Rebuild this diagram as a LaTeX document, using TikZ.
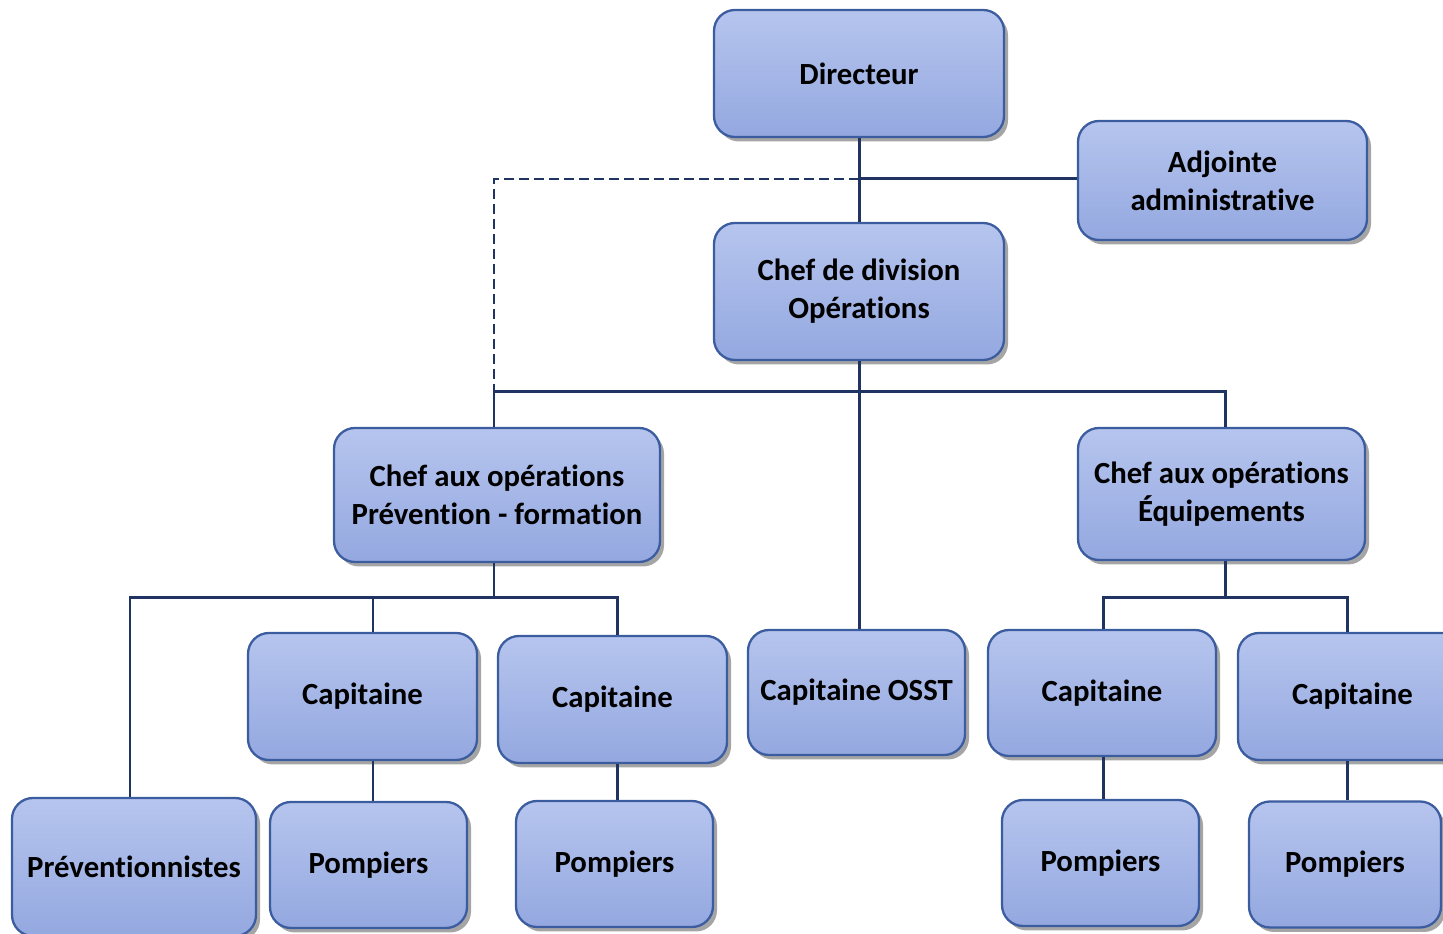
\documentclass[tikz,border=0pt]{standalone}
\usepackage{fontspec}
\setmainfont{Carlito}[Ligatures=NoCommon]
\usepackage{xcolor}
\usetikzlibrary{arrows,shapes,calc,positioning,shadows}
\definecolor{boxtop}{RGB}{182,197,238}
\definecolor{boxbot}{RGB}{148,168,224}
\definecolor{boxline}{RGB}{60,92,160}
\definecolor{linkcol}{RGB}{31,52,98}

\begin{document}
\begin{tikzpicture}[scale = 1]
		\tikzstyle{every node}=[font=\fontsize{17.5}{21.6}\selectfont\bfseries]
		\tikzstyle{post}=[draw=boxline, line width=1.3pt, rounded corners=0.42cm, top color=boxtop, bottom color=boxbot, align=center, inner sep=0pt, drop shadow={shadow xshift=0.08cm, shadow yshift=-0.09cm, opacity=0.5, fill=black!70}]
		\tikzstyle{link}=[draw=linkcol, line width=1.7pt]
		\useasboundingbox (0,0) rectangle (28.86,18.68);
		\node [post, minimum width=5.8cm, minimum height=2.54cm] (dir) at (17.18,17.21) {Directeur};
		\node [post, minimum width=5.78cm, minimum height=2.38cm] (adj) at (24.45,15.07) {Adjointe\\administrative};
		\node [post, minimum width=5.8cm, minimum height=2.74cm] (div) at (17.18,12.85) {Chef de division\\Opérations};
		\node [post, minimum width=6.52cm, minimum height=2.68cm] (prev) at (9.94,8.78) {Chef aux opérations\\Prévention - formation};
		\node [post, minimum width=5.74cm, minimum height=2.64cm] (equip) at (24.43,8.80) {Chef aux opérations\\Équipements};
		\node [post, minimum width=4.58cm, minimum height=2.54cm] (cap1) at (7.25,4.75) {Capitaine};
		\node [post, minimum width=4.58cm, minimum height=2.54cm] (cap2) at (12.25,4.69) {Capitaine};
		\node [post, minimum width=4.34cm, minimum height=2.5cm] (osst) at (17.13,4.83) {Capitaine OSST};
		\node [post, minimum width=4.56cm, minimum height=2.52cm] (cap3) at (22.04,4.82) {Capitaine};
		\node [post, minimum width=4.58cm, minimum height=2.54cm] (cap4) at (27.05,4.75) {Capitaine};
		\node [post, minimum width=4.88cm, minimum height=2.76cm] (prevs) at (2.68,1.34) {Préventionnistes};
		\node [post, minimum width=3.94cm, minimum height=2.52cm] (pomp1) at (7.37,1.38) {Pompiers};
		\node [post, minimum width=3.94cm, minimum height=2.52cm] (pomp2) at (12.29,1.40) {Pompiers};
		\node [post, minimum width=3.94cm, minimum height=2.52cm] (pomp3) at (22.01,1.42) {Pompiers};
		\node [post, minimum width=3.84cm, minimum height=2.52cm] (pomp4) at (26.90,1.39) {Pompiers};
		\coordinate (jadj) at (17.18,15.10);
		\coordinate (bustop) at (17.18,10.84);
		\coordinate (busprev) at (9.88,6.72);
		\coordinate (busequip) at (24.5,6.72);
		\draw [link] (dir.south) -- (div.north);
		\draw [link] (jadj) -- (jadj -| adj.west);
		\draw [link, line width=1.3pt, dash pattern=on 0.2cm off 0.1cm] (jadj) -| (9.88,10.84);
		\draw [link] (div.south) -- (div.south |- osst.north);
		\draw [link] (9.88,0 |- prev.north) |- (bustop) -| (24.5,0 |- equip.north);
		\draw [link] (9.88,0 |- prev.south) -- (busprev);
		\draw [link] (busprev) -| (2.6,0 |- prevs.north);
		\draw [link] (busprev) -| (7.46,0 |- cap1.north);
		\draw [link] (busprev) -| (12.34,0 |- cap2.north);
		\draw [link] (24.5,0 |- equip.south) -- (busequip);
		\draw [link] (busequip) -| (22.06,0 |- cap3.north);
		\draw [link] (busequip) -| (26.94,0 |- cap4.north);
		\draw [link] (7.46,0 |- cap1.south) -- (7.46,0 |- pomp1.north);
		\draw [link] (12.34,0 |- cap2.south) -- (12.34,0 |- pomp2.north);
		\draw [link] (22.06,0 |- cap3.south) -- (22.06,0 |- pomp3.north);
		\draw [link] (26.94,0 |- cap4.south) -- (26.94,0 |- pomp4.north);
	\end{tikzpicture}
\end{document}
